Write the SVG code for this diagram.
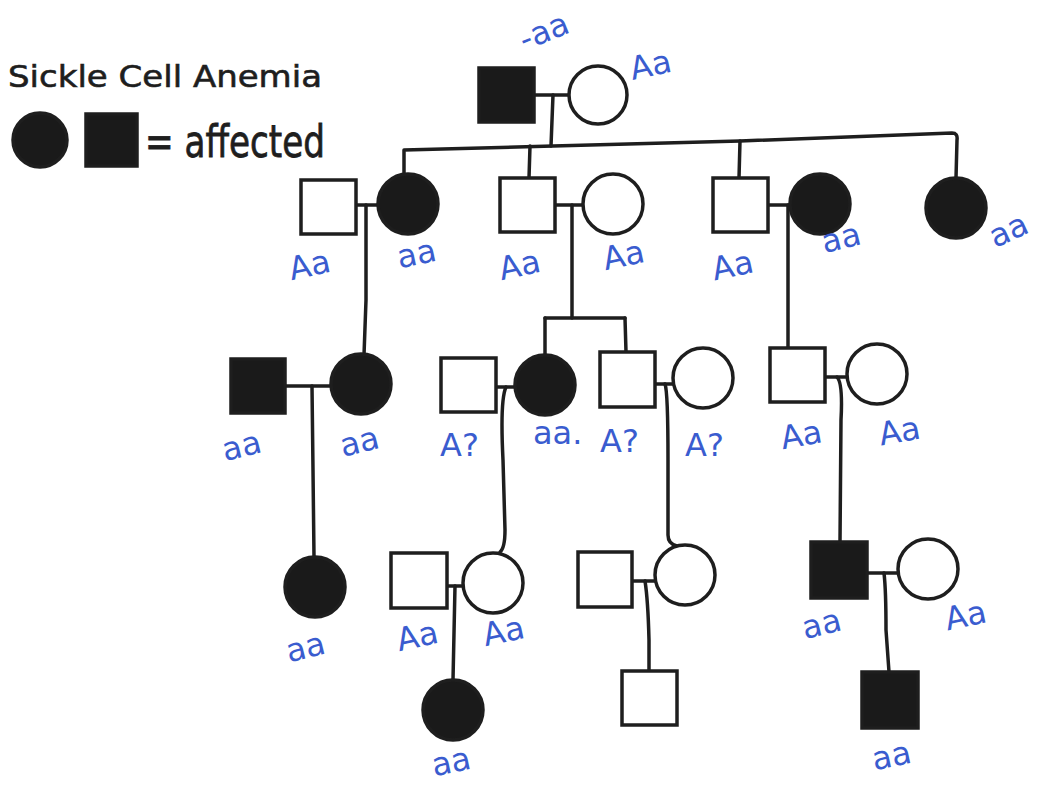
<svg xmlns="http://www.w3.org/2000/svg" width="1041" height="786" viewBox="0 0 1041 786">
  <style>
    .bg { fill: #ffffff; }
    .m { fill: #ffffff; stroke: #1e1e1e; stroke-width: 3.5; }
    .a { fill: #1a1a1a; stroke: #1e1e1e; stroke-width: 3.5; }
    .ln { fill: none; stroke: #1e1e1e; stroke-width: 3.5; stroke-linecap: round; stroke-linejoin: round; }
    .g { font-family: "DejaVu Sans", "Noto Sans", sans-serif; font-size: 32px; fill: #3a5ccf; }
    .title { font-family: "DejaVu Sans", "Noto Sans", sans-serif; font-size: 31px; fill: #1e1e1e; stroke: #1e1e1e; stroke-width: 0.6; }
    .key { font-family: "DejaVu Sans", "Noto Sans", sans-serif; font-size: 44px; fill: #1e1e1e; stroke: #1e1e1e; stroke-width: 0.8; }
  </style>

  <rect class="bg" x="0" y="0" width="1041" height="786"/>

  <!-- legend -->
  <g id="legend">
    <text class="title" x="8" y="87" textLength="314" lengthAdjust="spacingAndGlyphs">Sickle Cell Anemia</text>
    <circle class="a" cx="40" cy="140" r="27"/>
    <rect class="a" x="86" y="114" width="51" height="52"/>
    <text class="key" x="145" y="157" textLength="180" lengthAdjust="spacingAndGlyphs">= affected</text>
  </g>

  <!-- connectors: marriage lines, descent lines and sibship lines -->
  <g id="connectors">
    <!-- generation I -->
    <path class="ln" d="M534,95 L568,95"/>
    <path class="ln" d="M553,95 L551,146"/>
    <path class="ln" d="M404,174 L404,150 L553,146 L740,141 L952,133 Q958,133 957,140 L956,178"/>
    <path class="ln" d="M530,146 L529,178"/>
    <path class="ln" d="M740,141 L739,178"/>
    <!-- generation II couples -->
    <path class="ln" d="M356,205 L378,205"/>
    <path class="ln" d="M366,205 L366,300 L364,355"/>
    <path class="ln" d="M555,205 L583,205"/>
    <path class="ln" d="M572,205 L572,318"/>
    <path class="ln" d="M545,318 L625,318"/>
    <path class="ln" d="M545,318 L545,355"/>
    <path class="ln" d="M625,318 L626,352"/>
    <path class="ln" d="M768,205 L790,205"/>
    <path class="ln" d="M788,205 L788,348"/>
    <!-- generation III couples -->
    <path class="ln" d="M285,386 L331,386"/>
    <path class="ln" d="M312,386 L313,470 L314,557"/>
    <path class="ln" d="M496,387 L515,387"/>
    <path class="ln" d="M506,387 Q500,400 503,460 L505,530 Q505,548 500,552"/>
    <path class="ln" d="M655,384 L673,384"/>
    <path class="ln" d="M665,384 Q668,392 668,460 L668,535 Q668,544 677,546"/>
    <path class="ln" d="M825,377 L848,377"/>
    <path class="ln" d="M837,377 Q843,383 841,420 L840,542"/>
    <!-- generation IV couples -->
    <path class="ln" d="M447,586 L463,586"/>
    <path class="ln" d="M455,586 L453,680"/>
    <path class="ln" d="M632,581 L655,581"/>
    <path class="ln" d="M645,581 Q648,600 649,640 L649,671"/>
    <path class="ln" d="M867,573 L898,573"/>
    <path class="ln" d="M884,573 Q886,590 886,630 L889,672"/>
  </g>

  <!-- generation I -->
  <g id="I-1"><rect class="a" x="479" y="68" width="55" height="54"/><text class="g" x="520" y="44" transform="rotate(-22 540 36)">-aa</text></g>
  <g id="I-2"><circle class="m" cx="598" cy="95" r="29"/><text class="g" x="630" y="76" transform="rotate(-12 650 66)">Aa</text></g>

  <!-- generation II -->
  <g id="II-1"><rect class="m" x="301" y="180" width="55" height="54"/><text class="g" x="289" y="276" transform="rotate(-12 310 266)">Aa</text></g>
  <g id="II-2"><circle class="a" cx="408" cy="204" r="30"/><text class="g" x="397" y="264" transform="rotate(-12 420 254)">aa</text></g>
  <g id="II-3"><rect class="m" x="500" y="178" width="55" height="54"/><text class="g" x="499" y="276" transform="rotate(-12 520 266)">Aa</text></g>
  <g id="II-4"><circle class="m" cx="613" cy="204" r="30"/><text class="g" x="603" y="266" transform="rotate(-12 625 256)">Aa</text></g>
  <g id="II-5"><rect class="m" x="713" y="178" width="55" height="54"/><text class="g" x="712" y="276" transform="rotate(-12 735 266)">Aa</text></g>
  <g id="II-6"><circle class="a" cx="820" cy="204" r="30"/><text class="g" x="822" y="248" transform="rotate(-14 845 240)">aa</text></g>
  <g id="II-7"><circle class="a" cx="956" cy="208" r="30"/><text class="g" x="988" y="240" transform="rotate(-25 1010 228)">aa</text></g>

  <!-- generation III -->
  <g id="III-1"><rect class="a" x="231" y="359" width="54" height="54"/><text class="g" x="222" y="456" transform="rotate(-14 245 446)">aa</text></g>
  <g id="III-2"><circle class="a" cx="361" cy="384" r="30"/><text class="g" x="340" y="452" transform="rotate(-14 362 442)">aa</text></g>
  <g id="III-3"><rect class="m" x="441" y="358" width="55" height="54"/><text class="g" x="440" y="456">A?</text></g>
  <g id="III-4"><circle class="a" cx="545" cy="385" r="30"/><text class="g" x="533" y="444">aa.</text></g>
  <g id="III-5"><rect class="m" x="600" y="352" width="55" height="55"/><text class="g" x="600" y="452">A?</text></g>
  <g id="III-6"><circle class="m" cx="703" cy="378" r="30"/><text class="g" x="685" y="456">A?</text></g>
  <g id="III-7"><rect class="m" x="770" y="348" width="55" height="54"/><text class="g" x="781" y="446" transform="rotate(-10 800 438)">Aa</text></g>
  <g id="III-8"><circle class="m" cx="877" cy="374" r="30"/><text class="g" x="879" y="442" transform="rotate(-10 900 432)">Aa</text></g>

  <!-- generation IV -->
  <g id="IV-1"><circle class="a" cx="315" cy="587" r="30"/><text class="g" x="286" y="657" transform="rotate(-14 310 648)">aa</text></g>
  <g id="IV-2"><rect class="m" x="391" y="553" width="56" height="55"/><text class="g" x="397" y="647" transform="rotate(-12 418 638)">Aa</text></g>
  <g id="IV-3"><circle class="m" cx="493" cy="583" r="30"/><text class="g" x="483" y="642" transform="rotate(-12 505 632)">Aa</text></g>
  <g id="IV-4"><rect class="m" x="578" y="552" width="54" height="55"/></g>
  <g id="IV-5"><circle class="m" cx="685" cy="575" r="30"/></g>
  <g id="IV-6"><rect class="a" x="811" y="542" width="56" height="56"/><text class="g" x="802" y="634" transform="rotate(-14 825 624)">aa</text></g>
  <g id="IV-7"><circle class="m" cx="928" cy="569" r="30"/><text class="g" x="945" y="626" transform="rotate(-12 968 616)">Aa</text></g>

  <!-- generation V -->
  <g id="V-1"><circle class="a" cx="453" cy="710" r="30"/><text class="g" x="432" y="772" transform="rotate(-12 455 764)">aa</text></g>
  <g id="V-2"><rect class="m" x="622" y="671" width="55" height="54"/></g>
  <g id="V-3"><rect class="a" x="862" y="672" width="56" height="56"/><text class="g" x="872" y="766" transform="rotate(-12 895 756)">aa</text></g>
</svg>
